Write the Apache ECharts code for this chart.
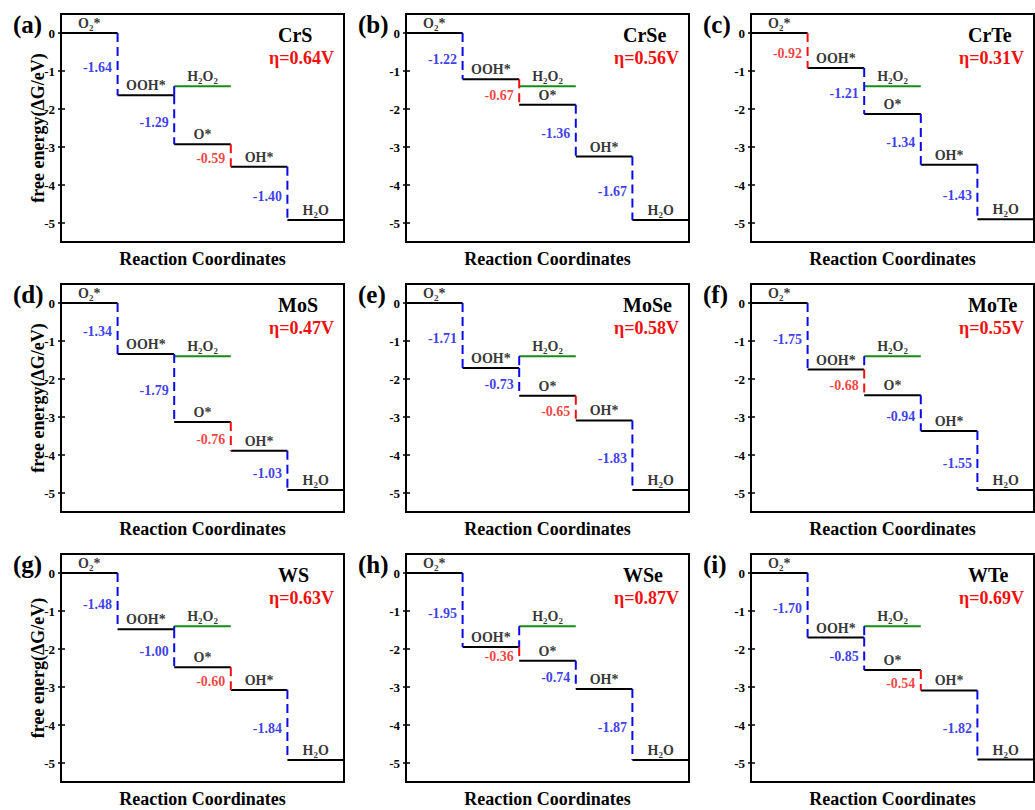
<!DOCTYPE html>
<html>
<head>
<meta charset="utf-8">
<script src="https://cdn.jsdelivr.net/npm/echarts@6/dist/echarts.min.js"></script>
<style>
html,body{margin:0;padding:0;background:#fff;}
#chart{width:1035px;height:810px;}
</style>
</head>
<body>
<div id="chart"></div>
<script>
// ---------------- data ----------------
const panelLetters = ['(a)', '(b)', '(c)', '(d)', '(e)', '(f)', '(g)', '(h)', '(i)'];
const materials = ['CrS', 'CrSe', 'CrTe', 'MoS', 'MoSe', 'MoTe', 'WS', 'WSe', 'WTe'];
const overpotentials = ['0.64', '0.56', '0.31', '0.47', '0.58', '0.55', '0.63', '0.87', '0.69'];

// step free energies (eV): O2*->OOH*, OOH*->O*, O*->OH*, OH*->H2O
const stepsCrS  = [-1.64, -1.29, -0.59, -1.40];
const stepsCrSe = [-1.22, -0.67, -1.36, -1.67];
const stepsCrTe = [-0.92, -1.21, -1.34, -1.43];
const stepsMoS  = [-1.34, -1.79, -0.76, -1.03];
const stepsMoSe = [-1.71, -0.73, -0.65, -1.83];
const stepsMoTe = [-1.75, -0.68, -0.94, -1.55];
const stepsWS   = [-1.48, -1.00, -0.60, -1.84];
const stepsWSe  = [-1.95, -0.36, -0.74, -1.87];
const stepsWTe  = [-1.70, -0.85, -0.54, -1.82];
const allSteps = [stepsCrS, stepsCrSe, stepsCrTe, stepsMoS, stepsMoSe, stepsMoTe, stepsWS, stepsWSe, stepsWTe];

const levelNames = ['O2*', 'OOH*', 'O*', 'OH*', 'H2O'];
const h2o2Name = 'H2O2';
const h2o2Level = -1.40;
const yTickValues = [0, -1, -2, -3, -4, -5];
const yAxisNames = ['free energy(\u0394G/eV)', 'free energy(\u0394G/eV)', 'free energ(\u0394G/eV)'];
const xAxisName = 'Reaction Coordinates';

// ---------------- layout / style ----------------
const FONT = '"Liberation Serif", "Times New Roman", serif';
const BLUE = '#0a0ae6';
const RED = '#f01010';
const GREEN = '#148c14';
const colLeft = [61, 406, 751];
const rowTop = [14, 284, 554];
const GW = 283, GH = 228;

function richName(name) {
  return name.replace(/([^0-9]+)|([0-9])/g, (m, a, b) => a ? `{n|${a}}` : `{s|${b}}`);
}
const levelRich = {
  n: { fontSize: 14, fontWeight: 'bold', fontFamily: FONT, color: '#000', lineHeight: 18, verticalAlign: 'middle' },
  s: { fontSize: 9, fontWeight: 'bold', fontFamily: FONT, color: '#000', lineHeight: 9, verticalAlign: 'bottom' }
};

const grids = [], xAxes = [], yAxes = [], series = [], graphics = [];

allSteps.forEach((steps, p) => {
  const r = Math.floor(p / 3), c = p % 3;
  const left = colLeft[c], top = rowTop[r];
  grids.push({ left: left, top: top, width: GW, height: GH, show: true,
    borderColor: '#000', borderWidth: 2, backgroundColor: 'transparent', containLabel: false });
  xAxes.push({ type: 'value', gridIndex: p, min: 0, max: 5,
    axisLine: { show: false }, axisTick: { show: false }, axisLabel: { show: false }, splitLine: { show: false },
    name: xAxisName, nameLocation: 'middle', nameGap: 8, nameMoveOverlap: false,
    nameTextStyle: { fontFamily: FONT, fontWeight: 'bold', fontSize: 18, color: '#000' } });
  const yCommon = { type: 'value', gridIndex: p, min: -5.5, max: 0.5, position: 'left', splitLine: { show: false },
    axisLine: { show: false } };
  yAxes.push(Object.assign({}, yCommon, {
    axisTick: { show: true, inside: true, length: 4, customValues: yTickValues, lineStyle: { color: '#000', width: 1.5 } },
    axisLabel: { show: true, customValues: yTickValues, margin: 6, color: '#000', fontFamily: FONT, fontWeight: 'bold', fontSize: 13,
      formatter: v => String(v) },
    name: c === 0 ? yAxisNames[r] : '', nameLocation: 'middle', nameGap: 14, nameMoveOverlap: false,
    nameTextStyle: { fontFamily: FONT, fontWeight: 'bold', fontSize: 18, color: '#000' }
  }));
  yAxes.push(Object.assign({}, yCommon, {
    axisTick: { show: true, inside: false, length: 3, customValues: yTickValues, lineStyle: { color: '#000', width: 1.5 } },
    axisLabel: { show: false }
  }));
  const yi = 2 * p;

  // energy levels
  const L = [0];
  steps.forEach((s, i) => L.push(Math.round((L[i] + s) * 100) / 100));
  let redIdx = 0;
  steps.forEach((s, i) => { if (Math.abs(s) < Math.abs(steps[redIdx])) redIdx = i; });

  const base = { type: 'line', xAxisIndex: p, yAxisIndex: yi, symbol: 'none', silent: true, animation: false };
  L.forEach((lv, i) => {
    series.push(Object.assign({}, base, { data: [[i, lv], [i + 1, lv]], lineStyle: { color: '#000', width: 2 }, z: 3 }));
  });
  series.push(Object.assign({}, base, { data: [[2, h2o2Level], [3, h2o2Level]], lineStyle: { color: GREEN, width: 2 }, z: 3 }));
  // link H2O2 level to OOH* level when OOH* lies below it
  if (L[1] < h2o2Level) {
    series.push(Object.assign({}, base, { data: [[2, h2o2Level], [2, L[1]]], lineStyle: { color: BLUE, width: 2, type: [9, 5] }, z: 4 }));
  }
  steps.forEach((s, i) => {
    series.push(Object.assign({}, base, { data: [[i + 1, L[i]], [i + 1, L[i + 1]]],
      lineStyle: { color: i === redIdx ? RED : BLUE, width: 2, type: [9, 5] }, z: 4 }));
  });

  // labels
  const labelData = [];
  L.forEach((lv, i) => {
    labelData.push({ name: richName(levelNames[i]), value: [i + 0.5, lv],
      label: { show: true, position: 'top', distance: 0, rich: levelRich } });
  });
  labelData.push({ name: richName(h2o2Name), value: [2.5, h2o2Level],
    label: { show: true, position: 'top', distance: 0, rich: levelRich } });
  steps.forEach((s, i) => {
    labelData.push({ name: s.toFixed(2), value: [i + 1, (L[i] + L[i + 1]) / 2],
      label: { show: true, position: 'left', distance: 5, offset: [0, 3], color: i === redIdx ? RED : BLUE,
        fontFamily: FONT, fontWeight: 'bold', fontSize: 14 } });
  });
  series.push({ type: 'scatter', xAxisIndex: p, yAxisIndex: yi, silent: true, animation: false,
    symbolSize: 1, itemStyle: { color: 'rgba(0,0,0,0)' }, z: 5,
    label: { show: true, formatter: '{b}' }, data: labelData });

  // panel texts
  graphics.push({ type: 'text', x: left - 48, y: top + 10.5, silent: true,
    style: { text: panelLetters[p], fill: '#000', fontFamily: FONT, fontWeight: 'bold', fontSize: 25, align: 'left', verticalAlign: 'middle' } });
  graphics.push({ type: 'text', x: left + 217, y: top + 20.5, silent: true,
    style: { text: materials[p], fill: '#000', fontFamily: FONT, fontWeight: 'bold', fontSize: 20, align: 'left', verticalAlign: 'middle' } });
  graphics.push({ type: 'text', x: left + 208, y: top + 43.5, silent: true,
    style: { text: '\u03b7=' + overpotentials[p] + 'V', fill: RED, fontFamily: FONT, fontWeight: 'bold', fontSize: 18, align: 'left', verticalAlign: 'middle' } });
});

const chart = echarts.init(document.getElementById('chart'), null, { renderer: 'svg' });
chart.setOption({
  animation: false,
  backgroundColor: '#fff',
  grid: grids,
  xAxis: xAxes,
  yAxis: yAxes,
  series: series,
  graphic: graphics
});
</script>
</body>
</html>
